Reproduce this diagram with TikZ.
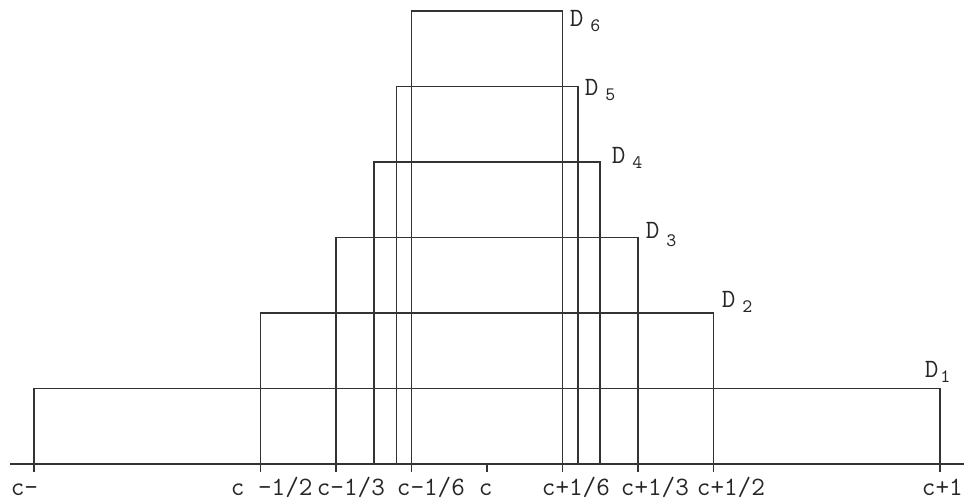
\documentclass[tikz,border=0pt]{standalone}
\usepackage{fontspec}
\usetikzlibrary{positioning}
\tikzset{
  every picture/.style={line width=0.9pt},
  box/.style={draw=black!80},
  tick/.style={draw=black!80},
  xlab/.style={font=\ttfamily\fontsize{13.2}{15}\selectfont, text=black!85, anchor=base west, inner sep=0pt},
  dlab/.style={font=\ttfamily\fontsize{13.2}{15}\selectfont, text=black!85, anchor=base west, inner sep=0pt},
  dsub/.style={font=\ttfamily\fontsize{9.5}{11}\selectfont, text=black!85, anchor=base west, inner sep=0pt},
}

\begin{document}
\begin{tikzpicture}[x=0.5pt, y=-0.5pt]
  \useasboundingbox (0,0) rectangle (964,498);
  % axis
  \coordinate (axl) at (10,464);
  \coordinate (axr) at (964,464);
  \draw[black!80] (axl) -- (axr);
  % intervals D_n = [c-1/n, c+1/n]
  \foreach \n in {1,...,6}
    \draw[box] ({487-453/\n},464) rectangle ({487+453/\n},{464-75.5*\n});
  % ticks
  \foreach \t in {-1,-0.5,-0.33333,-0.16667,0,0.16667,0.33333,0.5,1}
    \draw[tick] ({487+453*\t},464) -- ++(0,8);
  % tick labels
  \node[xlab] (lm1) at (10,495) {c-};
  \node[xlab] (lm2) at (230,495) {c -1/2};
  \node[xlab] (lm3) at (316,495) {c-1/3};
  \node[xlab] (lm6) at (396,495) {c-1/6};
  \node[xlab] (lc) at (478,495) {c};
  \node[xlab] (lp6) at (541,495) {c+1/6};
  \node[xlab] (lp3) at (620,495) {c+1/3};
  \node[xlab] (lp2) at (696,495) {c+1/2};
  \node[xlab] (lp1) at (921,495) {c+1};
  % interval names
  \node[dlab] (d1) at (924,377) {D};
  \node[dsub, right=0pt of d1.base east, anchor=base west, yshift=-2.5pt] (s1) {1};
  \node[dlab] (d2) at (721,307) {D};
  \node[dsub, right=2.5pt of d2.base east, anchor=base west, yshift=-2.5pt] (s2) {2};
  \node[dlab] (d3) at (645,238) {D};
  \node[dsub, right=2.5pt of d3.base east, anchor=base west, yshift=-4pt] (s3) {3};
  \node[dlab] (d4) at (611,163) {D};
  \node[dsub, right=2.5pt of d4.base east, anchor=base west, yshift=-2.5pt] (s4) {4};
  \node[dlab] (d5) at (584,95) {D};
  \node[dsub, right=2.5pt of d5.base east, anchor=base west, yshift=-2.5pt] (s5) {5};
  \node[dlab] (d6) at (569,26.5) {D};
  \node[dsub, right=2.5pt of d6.base east, anchor=base west, yshift=-2.5pt] (s6) {6};
\end{tikzpicture}
\end{document}
